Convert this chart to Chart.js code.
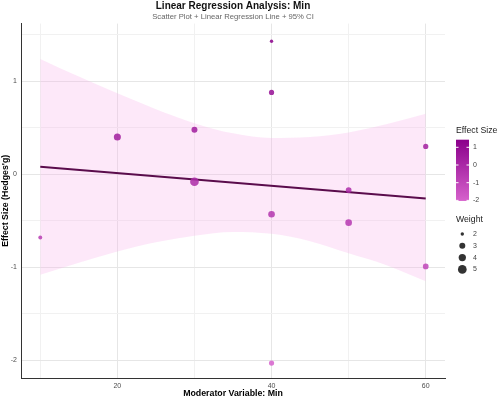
<!DOCTYPE html>
<html>
<head>
<meta charset="utf-8">
<script src="https://cdn.jsdelivr.net/npm/chart.js@4.4.0/dist/chart.umd.min.js"></script>
<style>
  html, body { margin: 0; padding: 0; background: #fff; }
</style>
</head>
<body>
<canvas id="chart-scatter" width="498" height="399"></canvas>
<script>
// studies: moderator value, effect size (Hedges' g), weight
var studyMin = [10, 20, 30, 30, 40, 40, 40, 40, 50, 50, 60, 60];
var studyEffect = [-0.68, 0.40, 0.48, -0.08, 1.43, 0.88, -0.43, -2.03, -0.17, -0.52, 0.30, -0.99];
var studyWeight = [2.2, 3.8, 3.0, 5.0, 2.0, 2.7, 3.5, 2.7, 2.9, 3.5, 2.7, 2.9];

// regression line end points
var fitMin = [10, 60];
var fitEffect = [0.08, -0.26];

// 95% CI band
var bandMin = [10, 15, 20, 25, 30, 35, 40, 45, 50, 55, 60];
var bandUpper = [1.24, 1.05, 0.87, 0.70, 0.55, 0.44, 0.39, 0.40, 0.45, 0.54, 0.65];
var bandLower = [-1.08, -0.95, -0.83, -0.73, -0.66, -0.62, -0.64, -0.72, -0.85, -0.98, -1.15];

// ticks
var xTicks = [10, 20, 30, 40, 50, 60];
var xLabels = [20, 40, 60];
var yTicks = [-2, -1.5, -1, -0.5, 0, 0.5, 1, 1.5];
var yLabels = [-2, -1, 0, 1];

// legends
var effectLegend = [1, 0, -1, -2];
var weightLegend = [2, 3, 4, 5];

var FONT = '"Liberation Sans", Arial, sans-serif';
var lowCol = [214, 98, 204];    // orchid-ish
var highCol = [139, 0, 139];    // darkmagenta
var effMin = Math.min.apply(null, studyEffect);
var effMax = Math.max.apply(null, studyEffect);
var sizeStops = [1.7, 3.0, 3.65, 4.35]; // radius for weight 2..5

function effectColor(v, alpha) {
    var t = (v - effMin) / (effMax - effMin);
    var c = lowCol.map(function (lo, k) { return Math.round(lo + (highCol[k] - lo) * t); });
    return 'rgba(' + c[0] + ',' + c[1] + ',' + c[2] + ',' + alpha + ')';
}
function weightRadius(w) {
    var p = Math.max(0, Math.min(2.999, w - 2));
    var i = Math.floor(p);
    return sizeStops[i] + (sizeStops[i + 1] - sizeStops[i]) * (p - i);
}
function pts(xs, ys) {
    return xs.map(function (x, i) { return {x: x, y: ys[i]}; });
}

var titlesAndLegend = {
    id: 'titlesAndLegend',
    afterDraw: function (chart) {
        var c = chart.ctx;
        var area = chart.chartArea;
        var cx = (area.left + area.right) / 2;
        c.save();
        c.textAlign = 'center';
        c.textBaseline = 'middle';
        c.fillStyle = '#111';
        c.font = 'bold 10px ' + FONT;
        c.fillText('Linear Regression Analysis: Min', cx, 6);
        c.fillStyle = '#666';
        c.font = '7.7px ' + FONT;
        c.fillText('Scatter Plot + Linear Regression Line + 95% CI', cx, 17);

        // colour bar
        var barX = 456, barW = 13;
        var yOf = function (v) { return 147.3 - (v - 1) * 17.7; };
        var top = yOf(effMax), bot = yOf(effMin);
        var g = c.createLinearGradient(0, bot, 0, top);
        g.addColorStop(0, effectColor(effMin, 1));
        g.addColorStop(1, effectColor(effMax, 1));
        c.fillStyle = g;
        c.fillRect(barX, top, barW, bot - top);
        c.strokeStyle = '#fff';
        c.lineWidth = 1;
        effectLegend.forEach(function (v) {
            var y = yOf(v);
            c.beginPath();
            c.moveTo(barX, y); c.lineTo(barX + 2.5, y);
            c.moveTo(barX + barW - 2.5, y); c.lineTo(barX + barW, y);
            c.stroke();
        });
        c.textAlign = 'left';
        c.fillStyle = '#222';
        c.font = '8.7px ' + FONT;
        c.fillText('Effect Size', 456, 131);
        c.fillText('Weight', 456, 220);
        c.fillStyle = '#444';
        c.font = '7px ' + FONT;
        effectLegend.forEach(function (v) {
            c.fillText(String(v), 473, yOf(v));
        });
        weightLegend.forEach(function (w, i) {
            var y = 234 + i * 11.8;
            c.fillStyle = '#333';
            c.beginPath();
            c.arc(462.3, y, weightRadius(w), 0, Math.PI * 2);
            c.fill();
            c.fillStyle = '#444';
            c.fillText(String(w), 473, y);
        });
        c.restore();
    }
};

var gridColor = function (major) {
    return function (ctx) {
        if (!ctx.tick) return 'transparent';
        return major.indexOf(ctx.tick.value) >= 0 ? '#e6e6e6' : '#f1f1f1';
    };
};

var ctx = document.getElementById('chart-scatter').getContext('2d');
new Chart(ctx, {
    type: 'scatter',
    data: {
        datasets: [{
            label: 'Studies',
            data: pts(studyMin, studyEffect),
            backgroundColor: function (c) { return effectColor(studyEffect[c.dataIndex], 0.85); },
            pointRadius: function (c) { return weightRadius(studyWeight[c.dataIndex]); },
            pointHoverRadius: function (c) { return weightRadius(studyWeight[c.dataIndex]); },
            borderWidth: 0
        }, {
            type: 'line',
            label: 'Fit',
            data: pts(fitMin, fitEffect),
            borderColor: '#5a0c4c',
            borderWidth: 2,
            pointRadius: 0,
            fill: false
        }, {
            type: 'line',
            label: 'CI lower',
            data: pts(bandMin, bandLower),
            borderColor: 'rgba(0,0,0,0)',
            borderWidth: 0,
            pointRadius: 0,
            cubicInterpolationMode: 'monotone',
            fill: false
        }, {
            type: 'line',
            label: 'CI upper',
            data: pts(bandMin, bandUpper),
            borderColor: 'rgba(0,0,0,0)',
            borderWidth: 0,
            pointRadius: 0,
            cubicInterpolationMode: 'monotone',
            backgroundColor: 'rgba(248,180,236,0.3)',
            fill: 2
        }]
    },
    options: {
        responsive: false,
        animation: false,
        devicePixelRatio: 1,
        layout: { padding: { top: 23.6, right: 53, left: 0, bottom: 0 } },
        plugins: {
            legend: { display: false },
            tooltip: { enabled: false }
        },
        scales: {
            x: {
                type: 'linear',
                min: 7.5,
                max: 62.5,
                afterBuildTicks: function (s) { s.ticks = xTicks.map(function (v) { return {value: v}; }); },
                afterFit: function (s) { s.height = 21; },
                ticks: {
                    autoSkip: false,
                    maxRotation: 0,
                    padding: 4,
                    color: '#4d4d4d',
                    font: { family: FONT, size: 7 },
                    callback: function (v) { return xLabels.indexOf(v) >= 0 ? String(v) : ''; }
                },
                grid: { color: gridColor(xLabels), drawTicks: false, lineWidth: 1 },
                border: { display: true, color: '#333', width: 1 },
                title: {
                    display: true,
                    text: 'Moderator Variable: Min',
                    color: '#000',
                    padding: 0,
                    font: { family: FONT, size: 8.8, weight: 'bold', lineHeight: 1.2 }
                }
            },
            y: {
                type: 'linear',
                min: -2.19,
                max: 1.62,
                afterBuildTicks: function (s) { s.ticks = yTicks.map(function (v) { return {value: v}; }); },
                afterFit: function (s) { s.width = 21; },
                ticks: {
                    autoSkip: false,
                    padding: 4,
                    color: '#4d4d4d',
                    font: { family: FONT, size: 7 },
                    callback: function (v) { return yLabels.indexOf(v) >= 0 ? String(v) : ''; }
                },
                grid: { color: gridColor(yLabels), drawTicks: false, lineWidth: 1 },
                border: { display: true, color: '#333', width: 1 },
                title: {
                    display: true,
                    text: "Effect Size (Hedges'g)",
                    color: '#000',
                    padding: 0,
                    font: { family: FONT, size: 8.8, weight: 'bold', lineHeight: 1.2 }
                }
            }
        }
    },
    plugins: [titlesAndLegend]
});
</script>
</body>
</html>
